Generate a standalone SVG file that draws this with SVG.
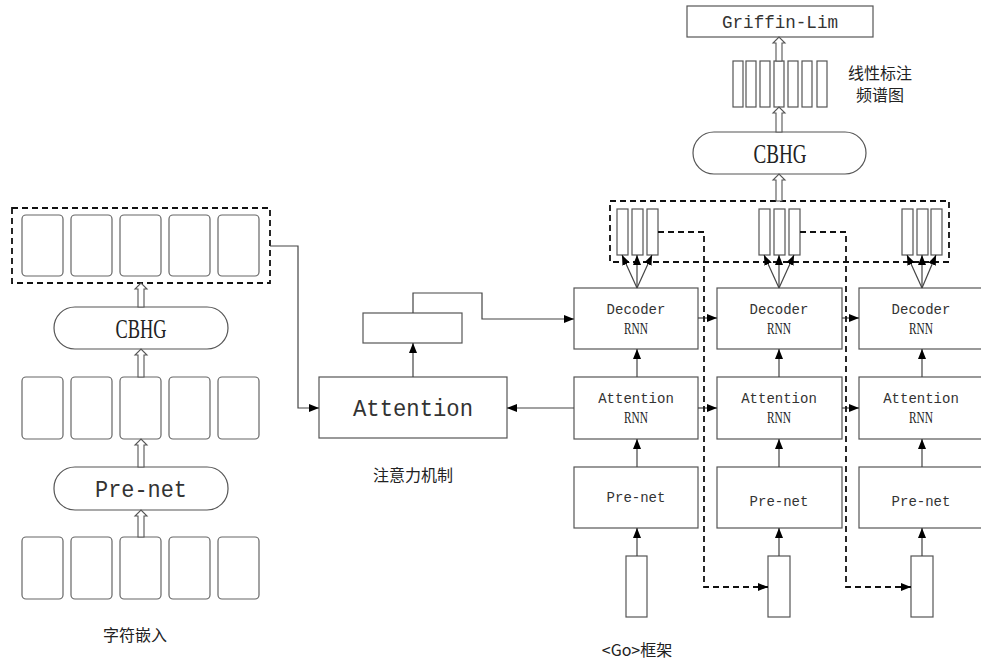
<svg xmlns="http://www.w3.org/2000/svg" width="981" height="661" viewBox="0 0 981 661">
<defs>
<marker id="ah" markerWidth="10" markerHeight="8" refX="10" refY="4" orient="auto" markerUnits="userSpaceOnUse"><path d="M0,0 L10,4 L0,8 z" fill="#000"/></marker>
<style>
.box{fill:#fff;stroke:#555;stroke-width:1.2}
.cell{fill:#fff;stroke:#666;stroke-width:1.2}
.dash{fill:none;stroke:#111;stroke-width:1.8;stroke-dasharray:6 4}
.ln{fill:none;stroke:#444;stroke-width:1.2}
.hol{fill:#fff;stroke:#555;stroke-width:1.1}
.mono{font-family:"Liberation Mono","DejaVu Sans Mono",monospace;fill:#333;text-anchor:middle}
.ser{font-family:"Liberation Serif","DejaVu Serif",serif;fill:#222;text-anchor:middle}
.cjk{font-family:"Noto Sans CJK SC","Noto Sans",sans-serif;fill:#222;text-anchor:middle;font-size:16px}
</style>
</defs>
<rect width="981" height="661" fill="#fff"/>

<g id="encoder-output">
<rect class="dash" x="12" y="208" width="258" height="75"/>
<rect class="cell" x="22" y="215" width="41" height="61" rx="4"/>
<rect class="cell" x="71" y="215" width="41" height="61" rx="4"/>
<rect class="cell" x="120" y="215" width="41" height="61" rx="4"/>
<rect class="cell" x="169" y="215" width="41" height="61" rx="4"/>
<rect class="cell" x="218" y="215" width="41" height="61" rx="4"/>
</g>
<g id="cbhg-left">
<rect class="box" x="54" y="307" width="174" height="42" rx="21"/>
<text class="ser" x="141" y="338" font-size="28" textLength="51" lengthAdjust="spacingAndGlyphs">CBHG</text>
</g>
<g id="mid-cells">
<rect class="cell" x="22" y="377" width="41" height="62" rx="4"/>
<rect class="cell" x="71" y="377" width="41" height="62" rx="4"/>
<rect class="cell" x="120" y="377" width="41" height="62" rx="4"/>
<rect class="cell" x="169" y="377" width="41" height="62" rx="4"/>
<rect class="cell" x="218" y="377" width="41" height="62" rx="4"/>
</g>
<g id="prenet-left">
<rect class="box" x="54" y="467" width="174" height="43" rx="21"/>
<text class="mono" x="141" y="497" font-size="24" textLength="92" lengthAdjust="spacingAndGlyphs">Pre-net</text>
</g>
<g id="char-embed">
<rect class="cell" x="22" y="537" width="41" height="62" rx="4"/>
<rect class="cell" x="71" y="537" width="41" height="62" rx="4"/>
<rect class="cell" x="120" y="537" width="41" height="62" rx="4"/>
<rect class="cell" x="169" y="537" width="41" height="62" rx="4"/>
<rect class="cell" x="218" y="537" width="41" height="62" rx="4"/>
<text class="cjk" x="135" y="641">字符嵌入</text>
</g>

<g id="attention">
<rect class="box" x="319" y="377" width="188" height="61"/>
<text class="mono" x="413" y="416" font-size="24" textLength="120" lengthAdjust="spacingAndGlyphs">Attention</text>
<text class="cjk" x="413" y="481">注意力机制</text>
</g>
<g id="context">
<rect class="box" x="363" y="313" width="99" height="30"/>
</g>

<g id="griffin">
<rect class="box" x="687" y="6" width="186" height="31"/>
<text class="mono" x="780" y="28" font-size="18" textLength="116" lengthAdjust="spacingAndGlyphs">Griffin-Lim</text>
</g>
<g id="linear-spec">
<rect class="box" x="733" y="61" width="10" height="46"/>
<rect class="box" x="746" y="61" width="10" height="46"/>
<rect class="box" x="760" y="61" width="10" height="46"/>
<rect class="box" x="774" y="61" width="10" height="46"/>
<rect class="box" x="788" y="61" width="10" height="46"/>
<rect class="box" x="802" y="61" width="10" height="46"/>
<rect class="box" x="817" y="61" width="10" height="46"/>
<text class="cjk" x="880" y="79" font-size="14.5">线性标注</text>
<text class="cjk" x="880" y="101" font-size="14.5">频谱图</text>
</g>
<g id="cbhg-right">
<rect class="box" x="693" y="132" width="173" height="42" rx="21"/>
<text class="ser" x="780" y="163" font-size="28" textLength="53" lengthAdjust="spacingAndGlyphs">CBHG</text>
</g>
<g id="frames">
<rect class="dash" x="610" y="201" width="339" height="61"/>
<rect class="box" x="617" y="209" width="11" height="46"/>
<rect class="box" x="632" y="209" width="11" height="46"/>
<rect class="box" x="647" y="209" width="11" height="46"/>
<rect class="box" x="759" y="209" width="11" height="46"/>
<rect class="box" x="774" y="209" width="11" height="46"/>
<rect class="box" x="789" y="209" width="11" height="46"/>
<rect class="box" x="902" y="209" width="11" height="46"/>
<rect class="box" x="917" y="209" width="11" height="46"/>
<rect class="box" x="931" y="209" width="11" height="46"/>
</g>

<g id="decoder-1">
<rect class="box" x="574" y="288" width="124" height="61"/>
<text class="mono" x="636" y="314" font-size="14">Decoder</text>
<text class="ser" x="636" y="334" font-size="16" textLength="24" lengthAdjust="spacingAndGlyphs">RNN</text>
</g>
<g id="decoder-2">
<rect class="box" x="717" y="288" width="125" height="61"/>
<text class="mono" x="779" y="314" font-size="14">Decoder</text>
<text class="ser" x="779" y="334" font-size="16" textLength="24" lengthAdjust="spacingAndGlyphs">RNN</text>
</g>
<g id="decoder-3">
<rect class="box" x="859" y="288" width="125" height="61"/>
<text class="mono" x="921" y="314" font-size="14">Decoder</text>
<text class="ser" x="921" y="334" font-size="16" textLength="24" lengthAdjust="spacingAndGlyphs">RNN</text>
</g>
<g id="attn-rnn-1">
<rect class="box" x="574" y="377" width="124" height="62"/>
<text class="mono" x="636" y="403" font-size="14">Attention</text>
<text class="ser" x="636" y="423" font-size="16" textLength="24" lengthAdjust="spacingAndGlyphs">RNN</text>
</g>
<g id="attn-rnn-2">
<rect class="box" x="717" y="377" width="125" height="62"/>
<text class="mono" x="779" y="403" font-size="14">Attention</text>
<text class="ser" x="779" y="423" font-size="16" textLength="24" lengthAdjust="spacingAndGlyphs">RNN</text>
</g>
<g id="attn-rnn-3">
<rect class="box" x="859" y="377" width="125" height="62"/>
<text class="mono" x="921" y="403" font-size="14">Attention</text>
<text class="ser" x="921" y="423" font-size="16" textLength="24" lengthAdjust="spacingAndGlyphs">RNN</text>
</g>
<g id="prenet-1">
<rect class="box" x="574" y="467" width="124" height="61"/>
<text class="mono" x="636" y="502" font-size="14">Pre-net</text>
</g>
<g id="prenet-2">
<rect class="box" x="717" y="467" width="125" height="61"/>
<text class="mono" x="779" y="506" font-size="14">Pre-net</text>
</g>
<g id="prenet-3">
<rect class="box" x="859" y="467" width="125" height="61"/>
<text class="mono" x="921" y="506" font-size="14">Pre-net</text>
</g>
<g id="go-frame">
<rect class="box" x="626" y="556" width="21" height="61"/>
<text class="cjk" x="637" y="656">&lt;Go&gt;框架</text>
</g>
<g id="frame-2"><rect class="box" x="768" y="556" width="22" height="61"/></g>
<g id="frame-3"><rect class="box" x="911" y="556" width="22" height="61"/></g>

<g id="connectors">
<polygon class="hol" points="138,307 138,289 135,289 141,283 147,289 144,289 144,307"/>
<polygon class="hol" points="138,377 138,355 135,355 141,349 147,355 144,355 144,377"/>
<polygon class="hol" points="138,467 138,445 135,445 141,439 147,445 144,445 144,467"/>
<polygon class="hol" points="138,537 138,516 135,516 141,510 147,516 144,516 144,537"/>
<polygon class="hol" points="776,61 776,43 773,43 779,37 785,43 782,43 782,61"/>
<polygon class="hol" points="776,132 776,113 773,113 779,107 785,113 782,113 782,132"/>
<polygon class="hol" points="776,201 776,180 773,180 779,174 785,180 782,180 782,201"/>

<polyline class="ln" points="270,246 298,246 298,408 319,408" marker-end="url(#ah)"/>
<line class="ln" x1="413" y1="377" x2="413" y2="343" marker-end="url(#ah)"/>
<polyline class="ln" points="413,313 413,293 482,293 482,319 574,319" marker-end="url(#ah)"/>
<line class="ln" x1="574" y1="408" x2="507" y2="408" marker-end="url(#ah)"/>

<line class="ln" x1="698" y1="318" x2="717" y2="318" marker-end="url(#ah)"/>
<line class="ln" x1="842" y1="318" x2="859" y2="318" marker-end="url(#ah)"/>
<line class="ln" x1="698" y1="408" x2="717" y2="408" marker-end="url(#ah)"/>
<line class="ln" x1="842" y1="408" x2="859" y2="408" marker-end="url(#ah)"/>

<line class="ln" x1="637" y1="377" x2="637" y2="349" marker-end="url(#ah)"/>
<line class="ln" x1="637" y1="467" x2="637" y2="439" marker-end="url(#ah)"/>
<line class="ln" x1="637" y1="556" x2="637" y2="528" marker-end="url(#ah)"/>
<line class="ln" x1="779" y1="377" x2="779" y2="349" marker-end="url(#ah)"/>
<line class="ln" x1="779" y1="467" x2="779" y2="439" marker-end="url(#ah)"/>
<line class="ln" x1="779" y1="556" x2="779" y2="528" marker-end="url(#ah)"/>
<line class="ln" x1="922" y1="377" x2="922" y2="349" marker-end="url(#ah)"/>
<line class="ln" x1="922" y1="467" x2="922" y2="439" marker-end="url(#ah)"/>
<line class="ln" x1="922" y1="556" x2="922" y2="528" marker-end="url(#ah)"/>

<line class="ln" x1="637" y1="288" x2="622" y2="255" marker-end="url(#ah)"/>
<line class="ln" x1="637" y1="288" x2="637" y2="255" marker-end="url(#ah)"/>
<line class="ln" x1="637" y1="288" x2="652" y2="255" marker-end="url(#ah)"/>
<line class="ln" x1="779" y1="288" x2="764" y2="255" marker-end="url(#ah)"/>
<line class="ln" x1="779" y1="288" x2="779" y2="255" marker-end="url(#ah)"/>
<line class="ln" x1="779" y1="288" x2="794" y2="255" marker-end="url(#ah)"/>
<line class="ln" x1="922" y1="288" x2="907" y2="255" marker-end="url(#ah)"/>
<line class="ln" x1="922" y1="288" x2="922" y2="255" marker-end="url(#ah)"/>
<line class="ln" x1="922" y1="288" x2="936" y2="255" marker-end="url(#ah)"/>

<polyline class="dash" points="658,232 704,232 704,587 768,587" marker-end="url(#ah)"/>
<polyline class="dash" points="800,232 846,232 846,587 911,587" marker-end="url(#ah)"/>
</g>
</svg>
